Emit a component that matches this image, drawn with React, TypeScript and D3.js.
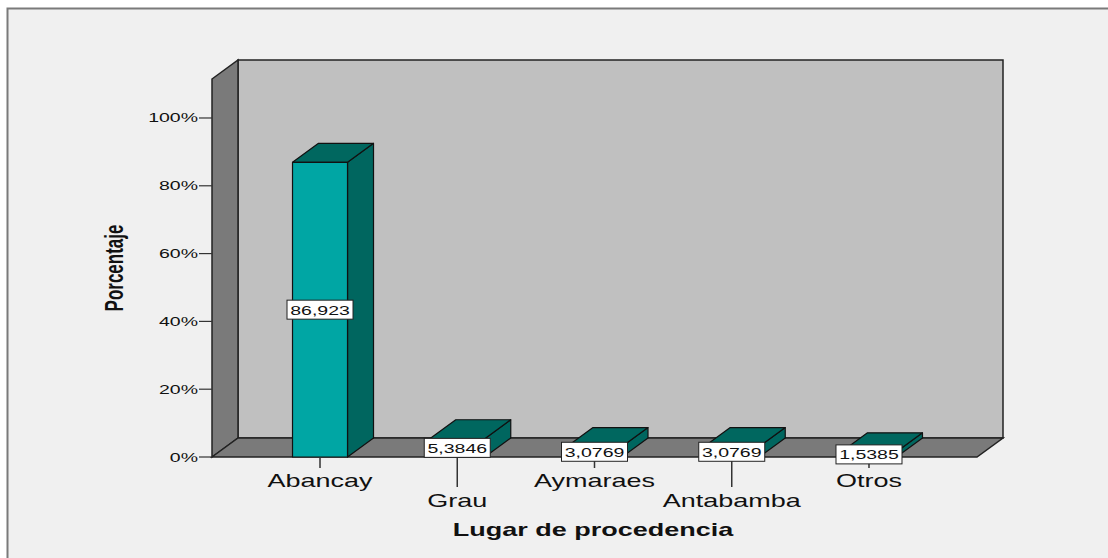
import { scaleLinear, scalePoint } from "d3";

const width = 1108;
const height = 558;

const categories = ["Abancay", "Grau", "Aymaraes", "Antabamba", "Otros"];
const percentages = [86.923, 5.3846, 3.0769, 3.0769, 1.5385];
const yTicks = [0, 20, 40, 60, 80, 100];

// front plane of the 3d box, and depth offset of the back plane
const left = 212;
const right = 977;
const bottom = 457;
const top = 79;
const dx = 26;
const dy = -19;
const barWidth = 55;
const stretch = 1.5; // the original picture is stretched sideways

const font = "'Liberation Sans', Arial, sans-serif";

const x = scalePoint().domain(categories).range([left, right]).padding(0.787);
const y = scaleLinear().domain([0, 111.5]).range([bottom, top]);

const pts = (p) => p.map((d) => d.join(",")).join(" ");
const fmt = (v) => String(v).replace(".", ",");

const SText = ({ x, y, size, anchor = "middle", bold = false, sx = stretch, children }) => (
  <g transform={`translate(${x},${y}) scale(${sx},1)`}>
    <text
      fontFamily={font}
      fontSize={size}
      fontWeight={bold ? "bold" : "normal"}
      textAnchor={anchor}
      fill="#111"
    >
      {children}
    </text>
  </g>
);

const App = () => {
  return (
    <svg
      width={width}
      height={height}
      style={{ position: "absolute", left: 0, top: 0, display: "block", background: "#fff" }}
    >
      <rect x={7.5} y={8.5} width={1110} height={570} fill="#f0f0f0" stroke="#7a7a7a" strokeWidth={2} />

      {/* back wall */}
      <rect
        x={left + dx}
        y={top + dy}
        width={right - left}
        height={bottom - top}
        fill="#c0c0c0"
        stroke="#222"
        strokeWidth={1.5}
      />
      {/* left wall */}
      <polygon
        points={pts([
          [left, top],
          [left + dx, top + dy],
          [left + dx, bottom + dy],
          [left, bottom],
        ])}
        fill="#7a7a7a"
        stroke="#222"
        strokeWidth={1.5}
      />
      {/* floor */}
      <polygon
        points={pts([
          [left, bottom],
          [left + dx, bottom + dy],
          [right + dx, bottom + dy],
          [right, bottom],
        ])}
        fill="#7a7a7a"
        stroke="#222"
        strokeWidth={1.5}
      />

      {/* y axis */}
      {yTicks.map((t) => (
        <g key={t}>
          <line x1={left - 13} x2={left} y1={y(t)} y2={y(t)} stroke="#333" strokeWidth={1.2} />
          <SText x={left - 14} y={y(t) + 4.5} size={13} anchor="end">
            {t}%
          </SText>
        </g>
      ))}
      <g transform={`translate(123,268) scale(${stretch},1) rotate(-90)`}>
        <text fontFamily={font} fontSize={17} fontWeight="bold" textAnchor="middle" fill="#111">
          Porcentaje
        </text>
      </g>

      {/* bars */}
      {categories.map((c, i) => {
        const cx = x(c);
        const x0 = cx - barWidth / 2;
        const x1 = cx + barWidth / 2;
        const yt = y(percentages[i]);
        return (
          <g key={c} stroke="#111" strokeWidth={1.2} strokeLinejoin="round">
            <polygon
              points={pts([
                [x1, yt],
                [x1 + dx, yt + dy],
                [x1 + dx, bottom + dy],
                [x1, bottom],
              ])}
              fill="#00665f"
            />
            <polygon
              points={pts([
                [x0, yt],
                [x0 + dx, yt + dy],
                [x1 + dx, yt + dy],
                [x1, yt],
              ])}
              fill="#00675f"
            />
            <rect x={x0} y={yt} width={barWidth} height={bottom - yt} fill="#00a6a4" />
          </g>
        );
      })}

      {/* category ticks and labels */}
      {categories.map((c, i) => {
        const low = i % 2 === 1;
        return (
          <g key={c}>
            <line
              x1={x(c)}
              x2={x(c)}
              y1={bottom}
              y2={bottom + (low ? 30 : 11)}
              stroke="#333"
              strokeWidth={1.5}
            />
            <SText x={x(c)} y={low ? 507 : 487} size={18}>
              {c}
            </SText>
          </g>
        );
      })}

      {/* value labels */}
      {categories.map((c, i) => {
        const label = fmt(percentages[i]);
        const cy = (y(percentages[i]) + bottom) / 2;
        const w = label.length * 11;
        return (
          <g key={c}>
            <rect x={x(c) - w / 2} y={cy - 9.5} width={w} height={19} fill="#fff" stroke="#222" strokeWidth={1} />
            <SText x={x(c)} y={cy + 5} size={13}>
              {label}
            </SText>
          </g>
        );
      })}

      <SText x={593} y={536} size={18} bold>
        Lugar de procedencia
      </SText>
    </svg>
  );
};

export default App;
